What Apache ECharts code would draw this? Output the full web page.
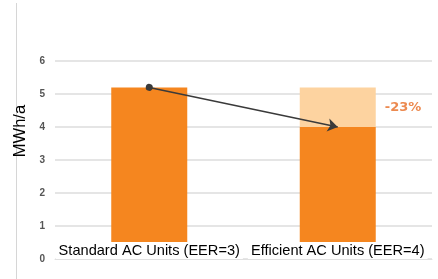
<!DOCTYPE html>
<html>
<head>
<meta charset="utf-8">
<script src="https://cdn.jsdelivr.net/npm/echarts@6/dist/echarts.min.js"></script>
<style>
  html, body { margin: 0; padding: 0; background: #fff; }
  #chart { width: 438px; height: 279px; }
</style>
</head>
<body>
<div id="chart"></div>
<script>
// chart data
var categories = ['Standard AC Units (EER=3)', 'Efficient AC Units (EER=4)'];
var consumption = [5.2, 4.0];
var yTicks = [0, 1, 2, 3, 4, 5, 6];

var saving = consumption[0] - consumption[1];
var savingPct = Math.round((consumption[1] - consumption[0]) / consumption[0] * 100);

var chartDom = document.getElementById('chart');
var myChart = echarts.init(chartDom);
var option;

option = {
    animation: false,
    textStyle: { fontFamily: 'Liberation Sans, Arial, sans-serif' },
    graphic: [
        {
            type: 'line',
            shape: { x1: 16.5, y1: 3, x2: 16.5, y2: 279 },
            style: { stroke: '#d6d6d6', lineWidth: 1 },
            silent: true
        }
    ],
    grid: { left: 55, right: 6, top: 61, bottom: 20 },
    xAxis: {
        type: 'category',
        data: categories,
        axisLine: { show: true, lineStyle: { color: '#e0e0e0' } },
        axisTick: { show: false },
        axisLabel: {
            inside: true,
            interval: 0,
            margin: 0,
            color: '#000',
            fontSize: 14.6,
            backgroundColor: '#fff',
            padding: [1, 3, 1, 3]
        },
        z: 10
    },
    yAxis: {
        type: 'value',
        min: yTicks[0],
        max: yTicks[yTicks.length - 1],
        interval: 1,
        name: 'MWh/a',
        nameLocation: 'middle',
        nameGap: 18,
        nameRotate: 90,
        nameTextStyle: { color: '#000', fontSize: 16.5, padding: [0, 0, 0, 58] },
        axisLine: { show: false },
        axisTick: { show: false },
        axisLabel: { color: '#555', fontSize: 10, fontWeight: 'bold', margin: 10 },
        splitLine: { lineStyle: { color: '#dcdcdc', width: 1.5 } }
    },
    series: [
        {
            name: 'Consumption',
            type: 'bar',
            stack: 'ac',
            barWidth: 76,
            data: consumption,
            itemStyle: { color: '#f5861f' },
            markLine: {
                silent: true,
                symbol: ['circle', 'arrow'],
                symbolSize: [7, 10],
                label: { show: false },
                lineStyle: { color: '#3a3a3a', width: 1.5, type: 'solid' },
                data: [
                    [
                        { coord: [0, consumption[0]], symbol: 'circle', symbolSize: 7, itemStyle: { color: '#111' } },
                        { coord: [1, consumption[1]], symbol: 'arrow', symbolSize: 10, itemStyle: { color: '#3a3a3a' } }
                    ]
                ]
            }
        },
        {
            name: 'Saving',
            type: 'bar',
            stack: 'ac',
            barWidth: 76,
            data: ['-', saving],
            itemStyle: { color: '#fdd3a0' },
            label: {
                show: true,
                position: 'right',
                distance: 9,
                formatter: savingPct + '%',
                color: '#ec8a50',
                fontSize: 13,
                fontWeight: 'bold',
                fontFamily: 'DejaVu Sans'
            }
        }
    ]
};

option && myChart.setOption(option);
</script>
</body>
</html>
